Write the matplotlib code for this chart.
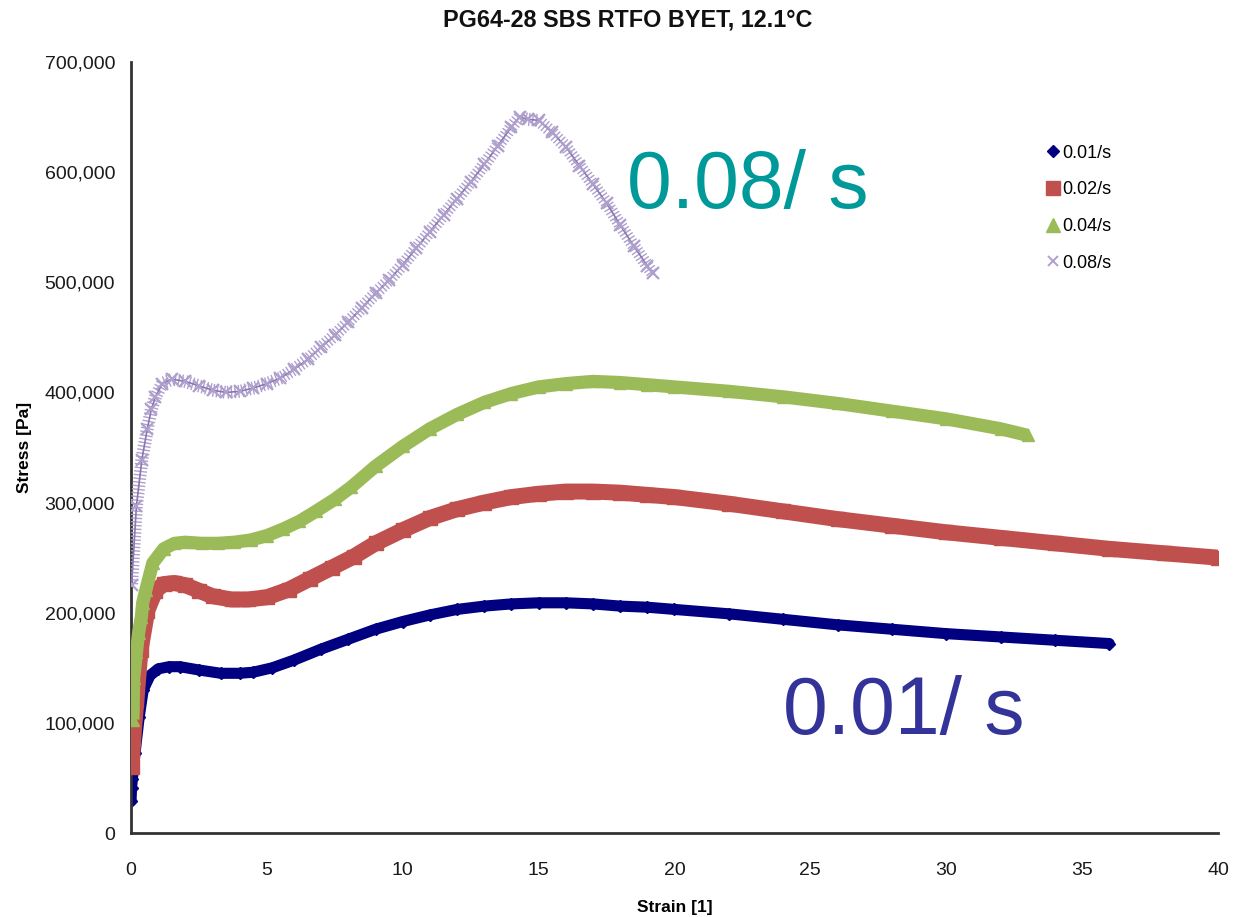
import matplotlib
matplotlib.use("Agg")
import matplotlib.pyplot as plt
import matplotlib.patheffects as pe
from matplotlib.lines import Line2D
from matplotlib.ticker import FuncFormatter, MultipleLocator

plt.rcParams["font.family"] = ["Liberation Sans", "DejaVu Sans"]

TITLE = "PG64-28 SBS RTFO BYET, 12.1\u00b0C"

# stress-strain readings per strain rate (strain [1], stress in kPa)
strain_001 = [0.0, 0.02, 0.05, 0.15, 0.3, 0.45, 0.7, 1.0, 1.4, 1.8, 2.5, 3.3, 4.0, 4.5,
              5.2, 6.0, 7.0, 8.0, 9.0, 10.0, 11.0, 12.0, 13.0, 14.0, 15.0, 16.0, 17.0,
              18.0, 19.0, 20.0, 22.0, 24.0, 26.0, 28.0, 30.0, 32.0, 34.0, 36.0]
stress_001 = [29, 41, 49, 73, 105, 130, 143, 149, 151, 151, 148, 145, 145, 146,
              150, 157, 167, 176, 185, 192, 198, 203, 206, 208, 209, 209, 208,
              206, 205, 203, 199, 194, 189, 185, 181, 178, 175, 172]

strain_002 = [0.02, 0.08, 0.2, 0.35, 0.6, 0.9, 1.2, 1.6, 2.0, 2.5, 3.0, 3.7, 4.3, 5.0,
              5.8, 6.6, 7.4, 8.2, 9.0, 10.0, 11.0, 12.0, 13.0, 14.0, 15.0, 16.0, 17.0,
              18.0, 19.0, 20.0, 22.0, 24.0, 26.0, 28.0, 30.0, 32.0, 34.0, 36.0, 38.0, 40.0]
stress_002 = [60, 85, 121, 166, 202, 220, 226, 227, 225, 220, 215, 212, 212, 214,
              221, 231, 241, 251, 263, 275, 286, 294, 300, 305, 308, 310, 310,
              309, 307, 305, 299, 292, 285, 279, 273, 268, 263, 258, 254, 250]

strain_004 = [0.07, 0.1, 0.2, 0.28, 0.38, 0.43, 0.55, 0.8, 1.2, 1.6, 2.0, 2.6, 3.2, 3.8,
              4.4, 5.0, 5.6, 6.2, 6.8, 7.5, 8.1, 9.0, 10.0, 11.0, 12.0, 13.0, 14.0, 15.0,
              16.0, 17.0, 18.0, 19.0, 20.0, 22.0, 24.0, 26.0, 28.0, 30.0, 32.0, 33.0]
stress_004 = [103, 141, 164, 182, 196, 209, 221, 245, 258, 263, 264, 263, 263, 264,
              266, 270, 276, 283, 292, 303, 314, 333, 351, 367, 380, 391, 399, 405,
              408, 410, 409, 407, 405, 401, 396, 390, 383, 376, 367, 361]

strain_008 = [0.02, 0.2, 0.4, 0.6, 0.75, 0.9, 1.15, 1.5, 2.0, 2.5, 3.0, 3.5, 4.0, 4.5,
              5.0, 5.5, 6.0, 6.5, 7.0, 7.5, 8.0, 8.5, 9.0, 9.5, 10.0, 10.5, 11.0, 11.5,
              12.0, 12.5, 13.0, 13.5, 14.0, 14.3, 14.6, 15.0, 15.5, 16.0, 16.5, 17.0,
              17.5, 18.0, 18.5, 19.0, 19.2]
stress_008 = [225, 297, 339, 367, 385, 396, 408, 412, 410, 406, 402, 400, 401, 404,
              408, 413, 421, 430, 441, 452, 464, 477, 490, 502, 516, 531, 546, 561,
              576, 591, 607, 624, 641, 650, 648, 647, 636, 623, 606, 589,
              572, 552, 533, 515, 508]

rates = ["0.01/s", "0.02/s", "0.04/s", "0.08/s"]


def pa(values):
    return [v * 1000 for v in values]


fig = plt.figure(figsize=(12.36, 9.17), dpi=100)
ax = fig.add_axes([0.106, 0.0916, 0.8794, 0.8408])

# dense measurement bands: thick stroke through the points plus the markers
ax.plot(strain_001, pa(stress_001), color="#000080", lw=8, solid_capstyle="round",
        zorder=2)
ax.plot(strain_001, pa(stress_001), ls="none", marker="D", ms=6, color="#000080",
        zorder=2)

ax.plot(strain_002, pa(stress_002), color="#C0504D", lw=11.5, solid_capstyle="butt",
        zorder=3)
ax.plot(strain_002, pa(stress_002), ls="none", marker="s", ms=9.5, color="#C0504D",
        zorder=3)

ax.plot(strain_004, pa(stress_004), color="#9BBB59", lw=9.5, solid_capstyle="butt",
        zorder=4)
ax.plot(strain_004, pa(stress_004), ls="none", marker="^", ms=9, color="#9BBB59",
        zorder=4)

ticks = [pe.TickedStroke(spacing=2.6, angle=90, length=1.6),
         pe.TickedStroke(spacing=2.6, angle=-90, length=1.6)]
ax.plot(strain_008, pa(stress_008), color="#AE9FCC", lw=1.0, path_effects=ticks,
        zorder=5)
ax.plot(strain_008, pa(stress_008), color="#8B76B2", lw=1.2, zorder=5)
ax.plot(strain_008, pa(stress_008), ls="none", marker="x", ms=8, mew=1.6,
        color="#AE9FCC", zorder=5)

ax.set_xlim(0, 40)
ax.set_ylim(0, 700000)
ax.xaxis.set_major_locator(MultipleLocator(5))
ax.yaxis.set_major_locator(MultipleLocator(100000))
ax.yaxis.set_major_formatter(FuncFormatter(lambda v, _: f"{v:,.0f}"))
ax.tick_params(length=0, labelsize=14, colors="#1a1a1a")
ax.tick_params(axis="x", pad=21)
ax.tick_params(axis="y", pad=11.5)

for side in ("top", "right"):
    ax.spines[side].set_visible(False)
for side in ("left", "bottom"):
    ax.spines[side].set_color("#333333")
    ax.spines[side].set_linewidth(2)

ax.set_xlabel("Strain [1]", fontsize=12.5, fontweight="bold", labelpad=15)
ax.set_ylabel("Stress [Pa]", fontsize=12.5, fontweight="bold", labelpad=9)
fig.text(0.508, 0.978, TITLE, ha="center", va="center", fontsize=16.8,
         fontweight="bold", color="#111111")

ax.text(18.25, 567000, "0.08/ s", fontsize=58, color="#009999", va="baseline")
ax.text(24.0, 90000, "0.01/ s", fontsize=58, color="#333399", va="baseline")

handles = [
    Line2D([], [], ls="none", marker="D", ms=6, color="#000080"),
    Line2D([], [], ls="none", marker="s", ms=10, color="#C0504D"),
    Line2D([], [], ls="none", marker="^", ms=10, color="#9BBB59"),
    Line2D([], [], ls="none", marker="x", ms=7, mew=1.4, color="#AE9FCC"),
]
ax.legend(handles, rates, loc="upper left", bbox_to_anchor=(0.835, 0.902),
          frameon=False, fontsize=13, handlelength=0.8, handletextpad=0.1,
          labelspacing=1.09, borderaxespad=0)

fig.savefig("out.png", dpi=100)
